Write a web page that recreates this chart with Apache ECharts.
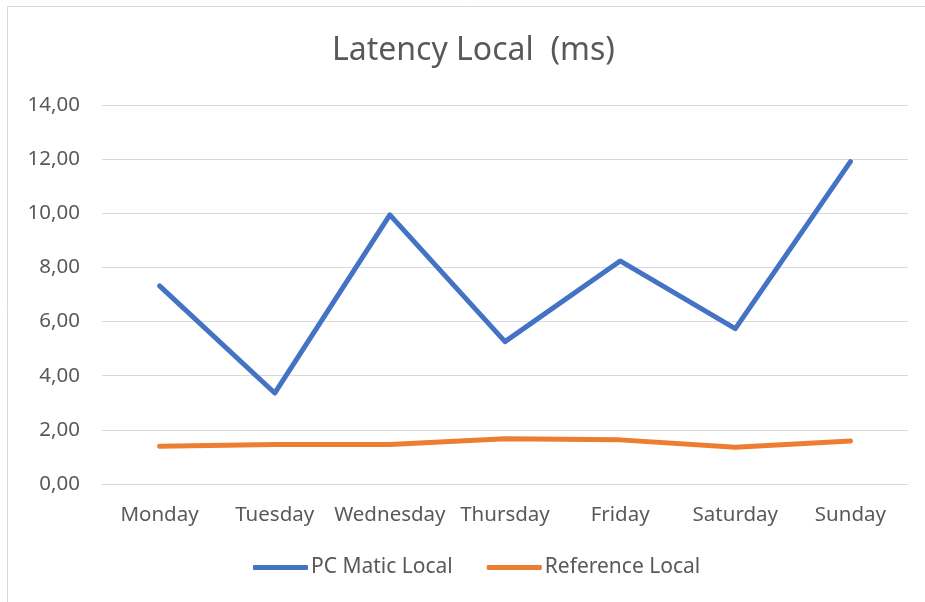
<!DOCTYPE html>
<html>
<head>
<meta charset="utf-8">
<title>Latency Local (ms)</title>
<script src="https://cdn.jsdelivr.net/npm/echarts@6/dist/echarts.min.js"></script>
<style>
    html, body { margin: 0; padding: 0; background: #fff; }
    #chart { width: 925px; height: 602px; }
</style>
</head>
<body>
<div id="chart"></div>
<script>
// days of the week
const days = ['Monday', 'Tuesday', 'Wednesday', 'Thursday', 'Friday', 'Saturday', 'Sunday'];
// latency values (ms)
const pcMaticLocal = [7.32, 3.36, 9.94, 5.26, 8.24, 5.74, 11.91];
const referenceLocal = [1.39, 1.46, 1.46, 1.67, 1.63, 1.36, 1.59];
// y axis
const yMin = 0;
const yMax = 14;
const yStep = 2;

const textColor = '#595959';
const fontFamily = '"Noto Sans", "Open Sans", sans-serif';

const chart = echarts.init(document.getElementById('chart'), null, { renderer: 'canvas' });

chart.setOption({
    animation: false,
    textStyle: { fontFamily: fontFamily },
    title: {
        text: 'Latency Local  (ms)',
        left: 327,
        top: 30,
        textStyle: {
            fontFamily: fontFamily,
            fontSize: 32,
            fontWeight: 'normal',
            color: textColor
        }
    },
    // faint chart border
    graphic: [
        {
            type: 'rect',
            shape: { x: 7.5, y: 6.5, width: 1000, height: 1000 },
            style: { fill: 'none', stroke: '#d9d9d9', lineWidth: 1 },
            silent: true
        }
    ],
    legend: {
        bottom: 19,
        left: 248,
        itemWidth: 55,
        itemHeight: 5,
        itemGap: 34,
        icon: 'roundRect',
        textStyle: {
            fontFamily: fontFamily,
            fontSize: 21,
            color: textColor,
            padding: [0, 0, 0, -2]
        },
        data: ['PC Matic Local', 'Reference Local']
    },
    grid: {
        left: 102,
        right: 17,
        top: 105,
        bottom: 118
    },
    xAxis: {
        type: 'category',
        data: days,
        boundaryGap: true,
        axisLine: { show: true, lineStyle: { color: '#d9d9d9' } },
        axisTick: { show: false },
        axisLabel: {
            interval: 0,
            margin: 21,
            fontFamily: fontFamily,
            fontSize: 20.5,
            color: textColor
        }
    },
    yAxis: {
        type: 'value',
        min: yMin,
        max: yMax,
        interval: yStep,
        axisLine: { show: false },
        axisTick: { show: false },
        splitLine: { lineStyle: { color: '#d9d9d9', width: 1 } },
        axisLabel: {
            margin: 22,
            fontFamily: fontFamily,
            fontSize: 20.5,
            color: textColor,
            formatter: v => v.toFixed(2).replace('.', ',')
        }
    },
    series: [
        {
            name: 'PC Matic Local',
            type: 'line',
            data: pcMaticLocal,
            symbol: 'none',
            lineStyle: { color: '#4472c4', width: 5, cap: 'round', join: 'round' },
            itemStyle: { color: '#4472c4' }
        },
        {
            name: 'Reference Local',
            type: 'line',
            data: referenceLocal,
            symbol: 'none',
            lineStyle: { color: '#ed7d31', width: 5, cap: 'round', join: 'round' },
            itemStyle: { color: '#ed7d31' }
        }
    ]
});
</script>
</body>
</html>
